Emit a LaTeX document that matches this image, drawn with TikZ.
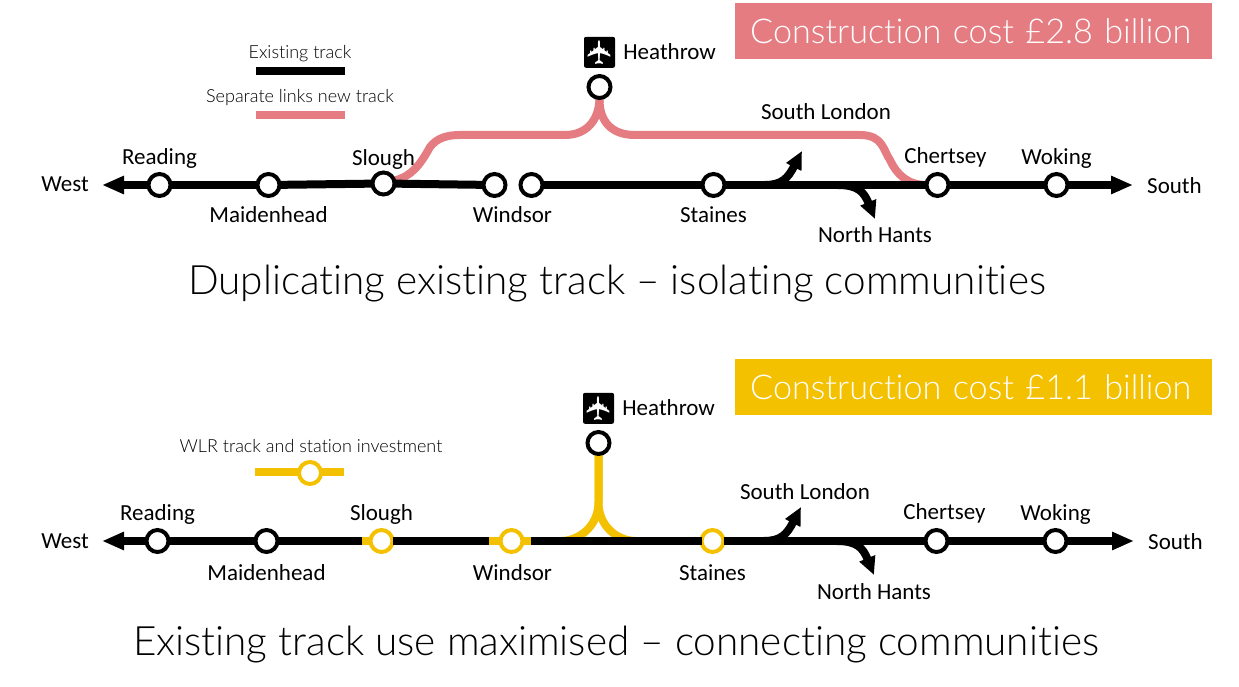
\documentclass[tikz,border=0pt]{standalone}
\usepackage{fontspec}
\setmainfont{Carlito}
\newfontfamily\headfont[Ligatures=NoCommon]{Lato Light}
\newfontfamily\iconfont{DejaVu Sans}
\usetikzlibrary{arrows.meta,positioning,backgrounds}
\definecolor{newtrackcolor}{RGB}{229,124,129}
\definecolor{wlrcolor}{RGB}{244,193,0}
\tikzset{
  station/.style={circle, draw=black, line width=4pt, fill=white, minimum size=22pt, inner sep=0pt, outer sep=0pt},
  wlrstation/.style={station, draw=wlrcolor},
  stnlbl/.style={font=\fontsize{23}{27}\selectfont, inner sep=0pt, text height=14pt, text depth=4pt},
  legendlbl/.style={font=\headfont\fontsize{18}{21}\selectfont, inner sep=0pt, text height=12pt, text depth=3pt},
  legendbar/.style={rectangle, minimum width=89pt, minimum height=8pt, inner sep=0pt, outer sep=0pt},
  headline/.style={font=\headfont\fontsize{40.5}{46}\selectfont, inner sep=0pt},
  costbox/.style={rectangle, anchor=north west, minimum width=477pt, minimum height=56pt, inner xsep=15pt, inner ysep=0pt,
    text width=447pt, align=left, text=white, font=\headfont\fontsize{34.2}{40}\selectfont},
  planeicon/.style={rectangle, rounded corners=2pt, fill=black, text=white, minimum size=31pt, inner sep=0pt, font=\iconfont\fontsize{33}{33}\selectfont},
  track/.style={line width=8pt, black},
  trackend/.style={track, -{Triangle[length=22pt,width=17pt]}},
  branch/.style={track, -{Triangle[length=18pt,width=16pt]}},
  newtrack/.style={line width=8pt, newtrackcolor},
  wlrtrack/.style={line width=8pt, wlrcolor},
}
\begin{document}
\begin{tikzpicture}[x=1pt,y=-1pt]
\useasboundingbox (0,0) rectangle (1239,687);

\node[costbox, fill=newtrackcolor] (costtop) at (735,3) {Construction cost £2.8 billion};
\node[legendlbl] (lblexisting) at (300,54) {Existing track};
\node[legendbar, fill=black, below=5pt of lblexisting] (barexisting) {};
\node[legendlbl, below=16pt of barexisting] (lblseparate) {Separate links new track};
\node[legendbar, fill=newtrackcolor, below=5pt of lblseparate] (barseparate) {};

\node[station] (reading) at (159.5,185) {};
\node[station, right=87pt of reading] (maidenhead) {};
\node[station, right=93pt of maidenhead, yshift=1.5pt] (slough) {};
\node[station] (windsor) at (494.5,185) {};
\node[station, right=15pt of windsor] (windsorb) {};
\node[station, right=160pt of windsorb] (staines) {};
\node[station, right=202pt of staines] (chertsey) {};
\node[station, right=97pt of chertsey] (woking) {};
\node[station] (heathrow) at (599.5,87) {};
\node[planeicon, above=8pt of heathrow] (plane) {\rotatebox{90}{✈}};
\node[stnlbl, right=8pt of plane, yshift=-2.5pt] (lblheathrow) {Heathrow};

\node[stnlbl, above=5pt of reading] (lblreading) {Reading};
\node[stnlbl, below=12pt of maidenhead] (lblmaidenhead) {Maidenhead};
\node[stnlbl, above=3pt of slough] (lblslough) {Slough};
\node[stnlbl, below=12pt of windsor, xshift=18pt] (lblwindsor) {Windsor};
\node[stnlbl, below=12pt of staines] (lblstaines) {Staines};
\node[stnlbl, above=6pt of chertsey, xshift=8pt] (lblchertsey) {Chertsey};
\node[stnlbl, above=5pt of woking] (lblwoking) {Woking};

\coordinate (westend) at (102,185);
\coordinate (southend) at (1133,185);
\coordinate (londonfrom) at (765,185);
\coordinate (londonend) at (802,151);
\coordinate (hantsfrom) at (838,185);
\coordinate (hantsend) at (875,219);
\node[stnlbl, left=13pt of westend, yshift=-2pt] (lblwest) {West};
\node[stnlbl, right=14pt of southend, yshift=-3.5pt] (lblsouth) {South};
\node[stnlbl] (lbllondon) at (826,115) {South London};
\node[stnlbl] (lblhants) at (875,237) {North Hants};

\begin{scope}[on background layer]
\draw[newtrack] (slough) .. controls (412,176) and (420,165) .. (430,147) .. controls (437,138) and (447,135) .. (460,135) -- (565,135) .. controls (585,135) and (599,122) .. (heathrow.south);
\draw[newtrack] (heathrow.south) .. controls (599,122) and (612,135) .. (635,135) -- (860,135) .. controls (883,135) and (883,150) .. (890,160) .. controls (897,175) and (908,185) .. (chertsey);
\end{scope}

\draw[trackend] (reading) -- (westend);
\draw[track] (reading) -- (maidenhead);
\draw[track] (maidenhead) -- (slough);
\draw[track] (slough) -- (windsor);
\draw[track] (windsorb) -- (staines);
\draw[track] (staines) -- (chertsey);
\draw[track] (chertsey) -- (woking);
\draw[trackend] (woking) -- (southend);
\draw[branch] (londonfrom) .. controls (782,185) and (788,178) .. (londonend);
\draw[branch] (hantsfrom) .. controls (858,185) and (864,192) .. (hantsend);

\node[headline] (titletop) at (617,284) {Duplicating existing track – isolating communities};

\node[costbox, fill=wlrcolor] (costbottom) at (735,359) {Construction cost £1.1 billion};
\node[legendlbl] (lblwlr) at (311,448) {WLR track and station investment};
\node[legendbar, fill=wlrcolor] (barwlr) at (299.5,472) {};
\node[wlrstation] (legendring) at (310,473) {};

\node[station] (readingb) at (157.5,541) {};
\node[station, right=87pt of readingb] (maidenheadb) {};
\node[wlrstation, right=93pt of maidenheadb] (sloughb) {};
\node[wlrstation, right=108pt of sloughb] (windsorc) {};
\node[wlrstation, right=179pt of windsorc] (stainesb) {};
\node[station, right=202pt of stainesb] (chertseyb) {};
\node[station, right=97pt of chertseyb] (wokingb) {};
\node[station] (heathrowb) at (598.5,443) {};
\node[planeicon, above=8pt of heathrowb] (planeb) {\rotatebox{90}{✈}};
\node[stnlbl, right=8pt of planeb, yshift=-2.5pt] (lblheathrowb) {Heathrow};

\node[stnlbl, above=5pt of readingb] (lblreadingb) {Reading};
\node[stnlbl, below=14pt of maidenheadb] (lblmaidenheadb) {Maidenhead};
\node[stnlbl, above=5pt of sloughb] (lblsloughb) {Slough};
\node[stnlbl, below=14pt of windsorc, xshift=1pt] (lblwindsorb) {Windsor};
\node[stnlbl, below=14pt of stainesb] (lblstainesb) {Staines};
\node[stnlbl, above=6pt of chertseyb, xshift=8pt] (lblchertseyb) {Chertsey};
\node[stnlbl, above=5pt of wokingb] (lblwokingb) {Woking};

\coordinate (westendb) at (102,541);
\coordinate (southendb) at (1134,541);
\coordinate (londonfromb) at (764,541);
\coordinate (londonendb) at (801,507);
\coordinate (hantsfromb) at (837,541);
\coordinate (hantsendb) at (874,575);
\coordinate (wlrleft) at (561,541);
\coordinate (wlrright) at (636,541);
\coordinate (sloughstub) at (362,541);
\coordinate (windsorstubl) at (489,541);
\coordinate (windsorstubr) at (531,541);
\node[stnlbl, left=13pt of westendb, yshift=-2pt] (lblwestb) {West};
\node[stnlbl, right=14pt of southendb, yshift=-3.5pt] (lblsouthb) {South};
\node[stnlbl] (lbllondonb) at (805,494) {South London};
\node[stnlbl] (lblhantsb) at (874,594) {North Hants};

\begin{scope}[on background layer]
\draw[wlrtrack] (heathrowb.south) -- ++(0,48) .. controls ++(0,25) and (578,541) .. (wlrleft);
\draw[wlrtrack] (heathrowb.south) -- ++(0,48) .. controls ++(0,25) and (618,541) .. (wlrright);
\end{scope}

\draw[trackend] (readingb) -- (westendb);
\draw[track] (readingb) -- (maidenheadb);
\draw[track] (maidenheadb) -- (sloughb);
\draw[track] (sloughb) -- (windsorc);
\draw[track] (windsorc) -- (stainesb);
\draw[track] (stainesb) -- (chertseyb);
\draw[track] (chertseyb) -- (wokingb);
\draw[trackend] (wokingb) -- (southendb);
\draw[wlrtrack] (sloughstub) -- (sloughb);
\draw[wlrtrack] (windsorstubl) -- (windsorc);
\draw[wlrtrack] (windsorc) -- (windsorstubr);
\draw[branch] (londonfromb) .. controls (781,541) and (787,534) .. (londonendb);
\draw[branch] (hantsfromb) .. controls (857,541) and (863,548) .. (hantsendb);

\node[headline] (titlebottom) at (616,645) {Existing track use maximised – connecting communities};

\end{tikzpicture}
\end{document}
